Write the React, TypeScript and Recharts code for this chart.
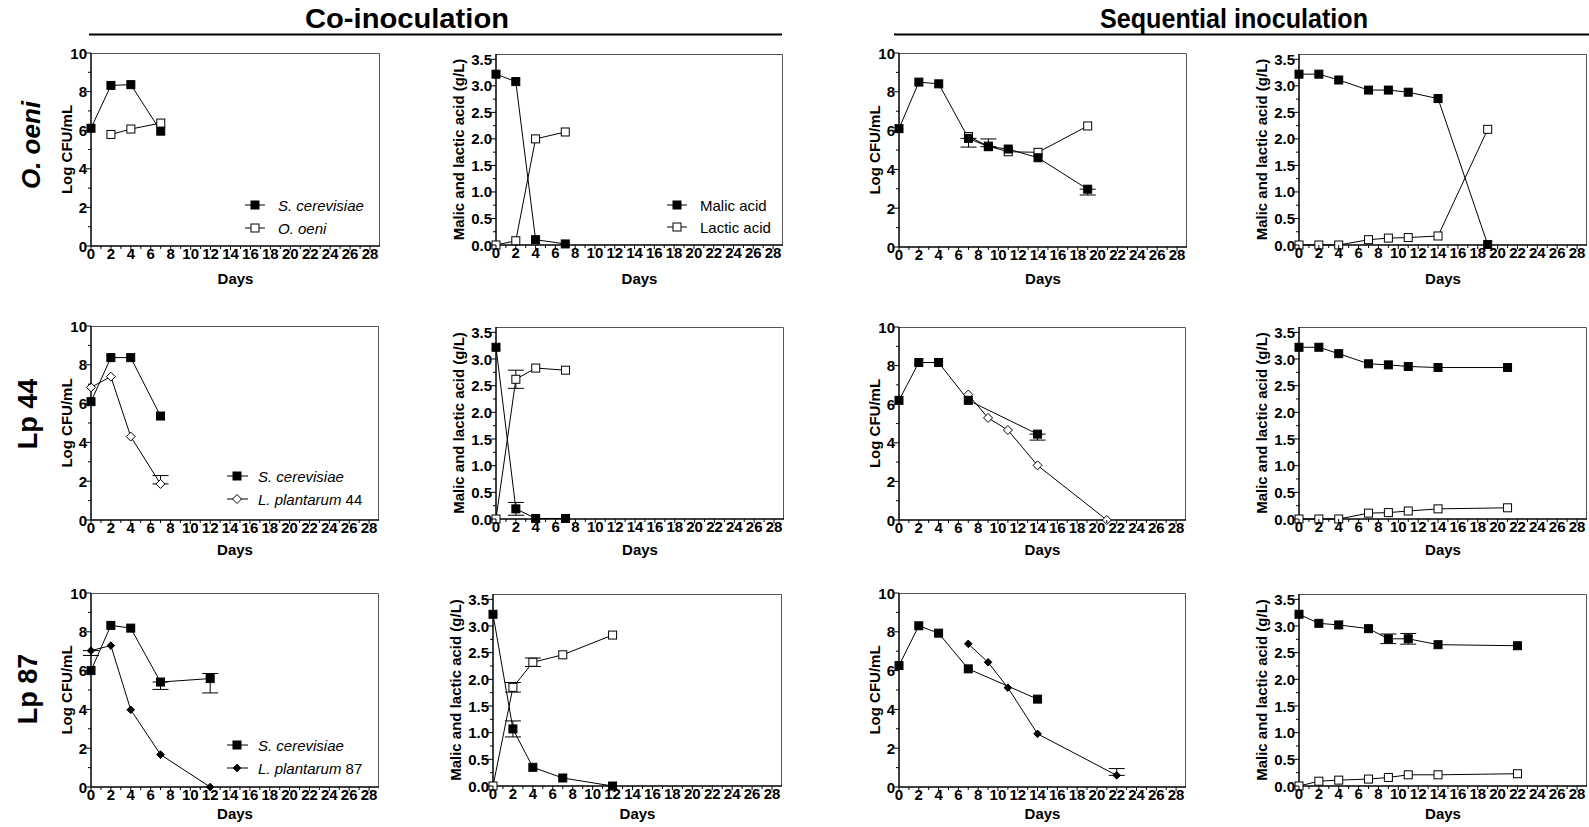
import React from 'react';
import { LineChart, Line, XAxis, YAxis, ErrorBar } from 'recharts';

const FONT = '"Liberation Sans", Arial, Helvetica, sans-serif';

// ---------- Co-inoculation, O. oeni ----------
const p1ScDays = [0, 2, 4, 7];
const p1Sc = [6.1, 8.32, 8.36, 5.95];
const p1OoDays = [2, 4, 7];
const p1Oo = [5.78, 6.06, 6.37];

const p2Days = [0, 2, 4, 7];
const p2Malic = [3.22, 3.08, 0.1, 0.02];
const p2Lactic = [0, 0.08, 2.0, 2.13];

// ---------- Sequential, O. oeni ----------
const p3ScDays = [0, 2, 4, 7, 9, 11, 14, 19];
const p3Sc = [6.1, 8.5, 8.41, 5.6, 5.17, 5.05, 4.6, 2.98];
const p3ScErr: (number | number[])[] = [0, 0, 0, [0.45, 0], [0, 0.4], 0, 0, [0.3, 0]];
const p3OoDays = [7, 9, 11, 14, 19];
const p3Oo = [5.69, 5.2, 4.91, 4.88, 6.24];

const p4Days = [0, 2, 4, 7, 9, 11, 14, 19];
const p4Malic = [3.22, 3.22, 3.11, 2.92, 2.92, 2.88, 2.76, 0.01];
const p4Lactic = [0, 0, 0, 0.1, 0.13, 0.14, 0.17, 2.18];

// ---------- Co-inoculation, Lp 44 ----------
const p5Days = [0, 2, 4, 7];
const p5Sc = [6.1, 8.37, 8.37, 5.36];
const p5Lp = [6.84, 7.39, 4.3, 1.86];
const p5LpErr: (number | number[])[] = [0, 0, 0, [0, 0.43]];

const p6Days = [0, 2, 4, 7];
const p6Malic = [3.22, 0.19, 0.01, 0.01];
const p6MalicErr = [0, 0.12, 0, 0];
const p6Lactic = [0, 2.62, 2.83, 2.79];
const p6LacticErr = [0, 0.17, 0, 0];

// ---------- Sequential, Lp 44 ----------
const p7ScDays = [0, 2, 4, 7, 14];
const p7Sc = [6.2, 8.16, 8.16, 6.2, 4.45];
const p7ScErr: (number | number[])[] = [0, 0, 0, 0, [0.31, 0]];
const p7LpDays = [7, 9, 11, 14, 21];
const p7Lp = [6.5, 5.29, 4.66, 2.83, 0];

const p8Days = [0, 2, 4, 7, 9, 11, 14, 21];
const p8Malic = [3.22, 3.22, 3.1, 2.91, 2.89, 2.86, 2.84, 2.84];
const p8Lactic = [0, 0, 0, 0.11, 0.12, 0.15, 0.19, 0.21];

// ---------- Co-inoculation, Lp 87 ----------
const p9Days = [0, 2, 4, 7, 12];
const p9Sc = [6.0, 8.33, 8.19, 5.41, 5.59];
const p9ScErr: (number | number[])[] = [0, 0, 0, [0.38, 0], [0.74, 0.26]];
const p9Lp = [7.03, 7.29, 3.98, 1.67, 0];
const p9LpErr: (number | number[])[] = [[0.25, 0], 0, 0, 0, 0];

const p10Days = [0, 2, 4, 7, 12];
const p10Malic = [3.22, 1.07, 0.35, 0.15, 0];
const p10MalicErr = [0, 0.15, 0, 0, 0];
const p10Lactic = [0, 1.85, 2.32, 2.46, 2.83];
const p10LacticErr = [0, 0.09, 0.08, 0, 0];

// ---------- Sequential, Lp 87 ----------
const p11ScDays = [0, 2, 4, 7, 14];
const p11Sc = [6.26, 8.31, 7.93, 6.09, 4.53];
const p11LpDays = [7, 9, 11, 14, 22];
const p11Lp = [7.38, 6.43, 5.12, 2.74, 0.6];
const p11LpErr: (number | number[])[] = [0, 0, 0, 0, [0, 0.35]];

const p12Days = [0, 2, 4, 7, 9, 11, 14, 22];
const p12Malic = [3.22, 3.05, 3.02, 2.95, 2.76, 2.76, 2.65, 2.63];
const p12MalicErr = [0, 0, 0, 0, 0.09, 0.1, 0, 0];
const p12Lactic = [0, 0.09, 0.11, 0.13, 0.16, 0.21, 0.21, 0.23];

// ---------- ticks ----------
const dayTicks = Array.from({ length: 29 }, (_, i) => i);
const logTicks = Array.from({ length: 11 }, (_, i) => i);
const acidTicks = Array.from({ length: 15 }, (_, i) => i * 0.25);

type Pt = { x: number; y: number; e?: number | number[] };
const pts = (days: number[], vals: number[], errs?: (number | number[])[]): Pt[] =>
  days.map((d, i) => ({ x: d, y: vals[i], e: errs ? errs[i] : undefined }));

// ---------- markers ----------
const FilledSquare = (p: any) => (
  <rect key={`fs${p.index}`} x={p.cx - 4} y={p.cy - 4} width={8} height={8} fill="#000" stroke="#000" strokeWidth={1} />
);
const OpenSquare = (p: any) => (
  <rect key={`os${p.index}`} x={p.cx - 4} y={p.cy - 4} width={8} height={8} fill="#fff" stroke="#000" strokeWidth={1} />
);
const OpenDiamond = (p: any) => (
  <path key={`od${p.index}`} d={`M${p.cx},${p.cy - 4.5}L${p.cx + 4.5},${p.cy}L${p.cx},${p.cy + 4.5}L${p.cx - 4.5},${p.cy}Z`} fill="#fff" stroke="#000" strokeWidth={1} />
);
const FilledDiamond = (p: any) => (
  <path key={`fd${p.index}`} d={`M${p.cx},${p.cy - 3.8}L${p.cx + 3.8},${p.cy}L${p.cx},${p.cy + 3.8}L${p.cx - 3.8},${p.cy}Z`} fill="#000" stroke="#000" strokeWidth={1} />
);

// ---------- ticks renderers ----------
const XTick = (props: any) => {
  const { x, y, payload } = props;
  const v = payload.value;
  const major = v % 2 === 0;
  return (
    <g>
      <line x1={x} x2={x} y1={y} y2={y + (major ? 4 : 3)} stroke="#000" strokeWidth={1} />
      {major && (
        <text x={x} y={y + 13} textAnchor="middle" fontSize={15} fontWeight={700} fontFamily={FONT} fill="#000">
          {v}
        </text>
      )}
    </g>
  );
};

const YTick = (props: any) => {
  const { x, y, payload, acid } = props;
  const v = payload.value;
  const major = acid ? Math.abs(v * 2 - Math.round(v * 2)) < 1e-6 : v % 2 === 0;
  return (
    <g>
      <line x1={x} x2={x - (major ? 5 : 3)} y1={y} y2={y} stroke="#000" strokeWidth={1} />
      {major && (
        <text x={x - 4} y={y + 5.5} textAnchor="end" fontSize={15} fontWeight={700} fontFamily={FONT} fill="#000">
          {acid ? v.toFixed(1) : v}
        </text>
      )}
    </g>
  );
};

type Series = { data: Pt[]; dot: any; err?: boolean };
type Rect = { x: number; y: number; w: number; h: number };

function Panel({ r, acid, series, daysDy }: { r: Rect; acid: boolean; series: Series[]; daysDy: number }) {
  const ML = 70, MT = 10, MR = 10, XH = 45;
  const W = ML + r.w + MR;
  const H = MT + r.h + XH;
  const ylabOff = acid ? 38 : 25;
  const ylab = acid ? 'Malic and lactic acid (g/L)' : 'Log CFU/mL';
  return (
    <div style={{ position: 'absolute', left: r.x - ML, top: r.y - MT, width: W, height: H }}>
      <svg width={W} height={H} style={{ position: 'absolute', left: 0, top: 0 }}>
        <path d={`M${ML},${MT + 0.5}H${ML + r.w - 0.5}V${MT + r.h}`} stroke="#555" strokeWidth={1} fill="none" />
      </svg>
      <LineChart width={W} height={H} margin={{ top: MT, right: MR, left: 0, bottom: 0 }}>
        <XAxis
          dataKey="x"
          type="number"
          domain={[0, 29]}
          ticks={dayTicks}
          interval={0}
          height={XH}
          tickSize={0}
          tickMargin={0}
          tickLine={false}
          axisLine={{ stroke: '#000', strokeWidth: 1.5 }}
          tick={<XTick />}
          label={{
            content: () => (
              <text x={ML + r.w / 2} y={MT + r.h + daysDy + 5.5} textAnchor="middle" fontSize={15} fontWeight={700} fontFamily={FONT} fill="#000">
                Days
              </text>
            ),
          }}
        />
        <YAxis
          type="number"
          domain={acid ? [0, 3.6] : [0, 10]}
          ticks={acid ? acidTicks : logTicks}
          interval={0}
          width={ML}
          tickSize={0}
          tickMargin={0}
          tickLine={false}
          axisLine={{ stroke: '#000', strokeWidth: 1.5 }}
          tick={<YTick acid={acid} />}
          label={{
            content: () => (
              <text
                transform={`translate(${ML - ylabOff},${MT + r.h / 2}) rotate(-90)`}
                textAnchor="middle"
                dominantBaseline="central"
                fontSize={15}
                fontWeight={700}
                fontFamily={FONT}
                fill="#000"
              >
                {ylab}
              </text>
            ),
          }}
        />
        {series.map((s, i) => (
          <Line
            key={i}
            data={s.data}
            dataKey="y"
            type="linear"
            stroke="#000"
            strokeWidth={1}
            dot={s.dot}
            activeDot={false}
            isAnimationActive={false}
            legendType="none"
          >
            {s.err && <ErrorBar dataKey="e" width={8} stroke="#000" strokeWidth={1} direction="y" />}
          </Line>
        ))}
      </LineChart>
    </div>
  );
}

function LegendRow({ x0, x1, mx, y, Marker, tx, children }: any) {
  return (
    <g>
      <line x1={x0} x2={x1} y1={y} y2={y} stroke="#000" strokeWidth={1} />
      <Marker cx={mx} cy={y} index={0} />
      <text x={tx} y={y + 5.5} fontSize={15} fontFamily={FONT} fill="#000">
        {children}
      </text>
    </g>
  );
}

export default function App() {
  const d1 = 32, d2 = 29, d3 = 26;
  return (
    <div style={{ position: 'absolute', left: 0, top: 0, width: 1589, height: 827, background: '#fff', fontFamily: FONT }}>
      {/* Row 1 */}
      <Panel r={{ x: 91, y: 53, w: 289, h: 193 }} acid={false} daysDy={d1}
        series={[
          { data: pts(p1ScDays, p1Sc), dot: FilledSquare },
          { data: pts(p1OoDays, p1Oo), dot: OpenSquare },
        ]} />
      <Panel r={{ x: 496, y: 54, w: 287, h: 191 }} acid daysDy={d1 + 1}
        series={[
          { data: pts(p2Days, p2Malic), dot: FilledSquare },
          { data: pts(p2Days, p2Lactic), dot: OpenSquare },
        ]} />
      <Panel r={{ x: 899, y: 53, w: 288, h: 194 }} acid={false} daysDy={d1 - 1}
        series={[
          { data: pts(p3OoDays, p3Oo), dot: OpenSquare },
          { data: pts(p3ScDays, p3Sc, p3ScErr), dot: FilledSquare, err: true },
        ]} />
      <Panel r={{ x: 1299, y: 54, w: 288, h: 191 }} acid daysDy={d1 + 1}
        series={[
          { data: pts(p4Days, p4Malic), dot: FilledSquare },
          { data: pts(p4Days, p4Lactic), dot: OpenSquare },
        ]} />

      {/* Row 2 */}
      <Panel r={{ x: 91, y: 326, w: 288, h: 194 }} acid={false} daysDy={d2}
        series={[
          { data: pts(p5Days, p5Sc), dot: FilledSquare },
          { data: pts(p5Days, p5Lp, p5LpErr), dot: OpenDiamond, err: true },
        ]} />
      <Panel r={{ x: 496, y: 327, w: 288, h: 192 }} acid daysDy={d2 + 1}
        series={[
          { data: pts(p6Days, p6Malic, p6MalicErr), dot: FilledSquare, err: true },
          { data: pts(p6Days, p6Lactic, p6LacticErr), dot: OpenSquare, err: true },
        ]} />
      <Panel r={{ x: 899, y: 327, w: 287, h: 193 }} acid={false} daysDy={d2}
        series={[
          { data: pts(p7LpDays, p7Lp), dot: OpenDiamond },
          { data: pts(p7ScDays, p7Sc, p7ScErr), dot: FilledSquare, err: true },
        ]} />
      <Panel r={{ x: 1299, y: 327, w: 288, h: 192 }} acid daysDy={d2 + 1}
        series={[
          { data: pts(p8Days, p8Malic), dot: FilledSquare },
          { data: pts(p8Days, p8Lactic), dot: OpenSquare },
        ]} />

      {/* Row 3 */}
      <Panel r={{ x: 91, y: 593, w: 288, h: 194 }} acid={false} daysDy={d3}
        series={[
          { data: pts(p9Days, p9Lp, p9LpErr), dot: FilledDiamond, err: true },
          { data: pts(p9Days, p9Sc, p9ScErr), dot: FilledSquare, err: true },
        ]} />
      <Panel r={{ x: 493, y: 594, w: 289, h: 192 }} acid daysDy={d3 + 1}
        series={[
          { data: pts(p10Days, p10Malic, p10MalicErr), dot: FilledSquare, err: true },
          { data: pts(p10Days, p10Lactic, p10LacticErr), dot: OpenSquare, err: true },
        ]} />
      <Panel r={{ x: 899, y: 593, w: 287, h: 194 }} acid={false} daysDy={d3}
        series={[
          { data: pts(p11ScDays, p11Sc), dot: FilledSquare },
          { data: pts(p11LpDays, p11Lp, p11LpErr), dot: FilledDiamond, err: true },
        ]} />
      <Panel r={{ x: 1299, y: 594, w: 288, h: 192 }} acid daysDy={d3 + 1}
        series={[
          { data: pts(p12Days, p12Malic, p12MalicErr), dot: FilledSquare, err: true },
          { data: pts(p12Days, p12Lactic), dot: OpenSquare },
        ]} />

      {/* Headers, row labels, legends */}
      <svg width={1589} height={827} style={{ position: 'absolute', left: 0, top: 0, pointerEvents: 'none' }}>
        <text x={407} y={28} textAnchor="middle" fontSize={27} fontWeight={700} fontFamily={FONT} fill="#000" textLength={204} lengthAdjust="spacingAndGlyphs">Co-inoculation</text>
        <line x1={89} x2={782} y1={34.5} y2={34.5} stroke="#000" strokeWidth={2} />
        <text x={1234} y={28} textAnchor="middle" fontSize={27} fontWeight={700} fontFamily={FONT} fill="#000" textLength={268} lengthAdjust="spacingAndGlyphs">Sequential inoculation</text>
        <line x1={894} x2={1589} y1={34.5} y2={34.5} stroke="#000" strokeWidth={2} />

        <text transform="translate(40,145) rotate(-90)" textAnchor="middle" fontSize={26} fontWeight={700} fontStyle="italic" fontFamily={FONT} fill="#000">O. oeni</text>
        <text transform="translate(37,414) rotate(-90)" textAnchor="middle" fontSize={27} fontWeight={700} fontFamily={FONT} fill="#000">Lp 44</text>
        <text transform="translate(37,689) rotate(-90)" textAnchor="middle" fontSize={27} fontWeight={700} fontFamily={FONT} fill="#000">Lp 87</text>

        <LegendRow x0={245} x1={265} mx={255} y={205} Marker={FilledSquare} tx={278}>
          <tspan fontStyle="italic">S. cerevisiae</tspan>
        </LegendRow>
        <LegendRow x0={245} x1={265} mx={255} y={228} Marker={OpenSquare} tx={278}>
          <tspan fontStyle="italic">O. oeni</tspan>
        </LegendRow>

        <LegendRow x0={667} x1={687} mx={677} y={205} Marker={FilledSquare} tx={700}>Malic acid</LegendRow>
        <LegendRow x0={667} x1={687} mx={677} y={227} Marker={OpenSquare} tx={700}>Lactic acid</LegendRow>

        <LegendRow x0={227} x1={248} mx={237} y={476} Marker={FilledSquare} tx={258}>
          <tspan fontStyle="italic">S. cerevisiae</tspan>
        </LegendRow>
        <LegendRow x0={227} x1={248} mx={237} y={499} Marker={OpenDiamond} tx={258}>
          <tspan fontStyle="italic">L. plantarum</tspan> 44
        </LegendRow>

        <LegendRow x0={227} x1={248} mx={237} y={745} Marker={FilledSquare} tx={258}>
          <tspan fontStyle="italic">S. cerevisiae</tspan>
        </LegendRow>
        <LegendRow x0={227} x1={248} mx={237} y={768} Marker={FilledDiamond} tx={258}>
          <tspan fontStyle="italic">L. plantarum</tspan> 87
        </LegendRow>
      </svg>
    </div>
  );
}
